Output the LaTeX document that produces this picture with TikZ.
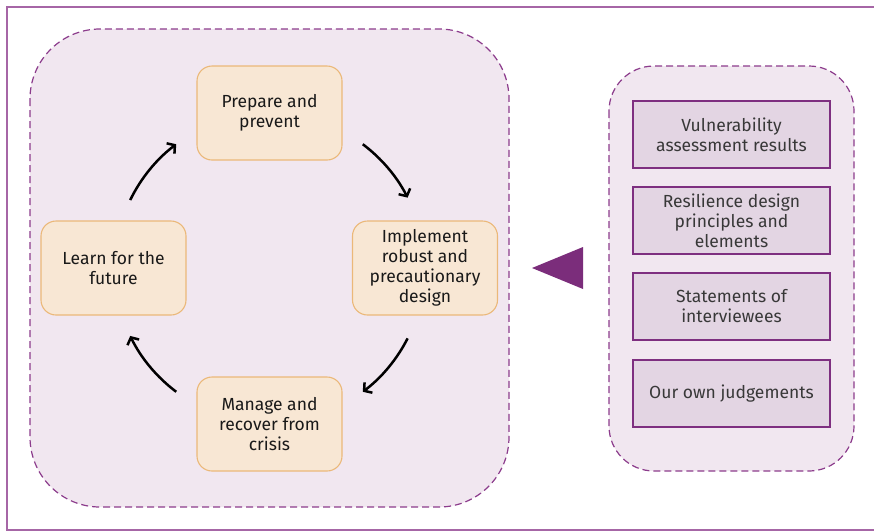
\documentclass[tikz,border=0pt]{standalone}
\usepackage{fontspec}
\setmainfont{Fira Sans}
\usetikzlibrary{positioning,arrows.meta}

\definecolor{framepurple}{RGB}{166,102,166}
\definecolor{dashpurple}{RGB}{140,60,140}
\definecolor{regionfill}{RGB}{241,231,240}
\definecolor{stagefill}{RGB}{248,231,212}
\definecolor{stageline}{RGB}{235,184,121}
\definecolor{sourcefill}{RGB}{227,213,227}
\definecolor{sourceline}{RGB}{126,47,128}
\definecolor{pointerpurple}{RGB}{123,45,123}

\tikzset{
  region/.style={draw=dashpurple, fill=regionfill, dash pattern=on 7pt off 4pt, line width=1.2pt},
  stage/.style={draw=stageline, fill=stagefill, rounded corners=15pt, line width=1.1pt,
    minimum width=145pt, minimum height=94pt, align=center, text=black!90,
    font=\fontsize{17.5}{20}\selectfont},
  source/.style={draw=sourceline, fill=sourcefill, line width=1.8pt,
    minimum width=197pt, minimum height=67pt, align=center, text=black!78,
    font=\fontsize{17.5}{20}\selectfont},
  cyc/.style={-{Straight Barb[length=5.5pt,width=13pt]}, line width=2.5pt},
}

\begin{document}
\begin{tikzpicture}[x=1pt, y=-1pt]
  \useasboundingbox (0,0) rectangle (874,531);
  \draw[framepurple, line width=1.8pt] (874,7) -- (7,7) -- (7,530) -- (874,530);

  % the two dashed areas
  \draw[region, rounded corners=70pt] (30,29) rectangle (509,507);
  \draw[region, rounded corners=45pt] (609,66) rectangle (854,471);

  % cycle
  \coordinate (hub) at (269.5,268);
  \node[stage] (prepare) at (269.5,113) {Prepare and\\prevent};
  \node[stage] (implement) at (425,268) {Implement\\robust and\\precautionary\\design};
  \node[stage] (manage) at (269.5,424) {Manage and\\recover from\\crisis};
  \node[stage] (learn) at (113.5,268) {Learn for the\\future};
  \foreach \s/\e in {-154/-127, -53/-27, 27/53, 127/154}
    \draw[cyc] (hub) ++(\s:155) arc[start angle=\s, end angle=\e, radius=155];

  % sources
  \node[source] (vuln) at (731.5,134.5) {Vulnerability\\assessment results};
  \node[source, below=17pt of vuln] (principles) {Resilience design\\principles and\\elements};
  \node[source, below=17pt of principles] (statements) {Statements of\\interviewees};
  \node[source, below=18.5pt of statements] (judgements) {Our own judgements};

  \fill[pointerpurple] (532,268) -- (583,247) -- (583,289) -- cycle;
\end{tikzpicture}
\end{document}
